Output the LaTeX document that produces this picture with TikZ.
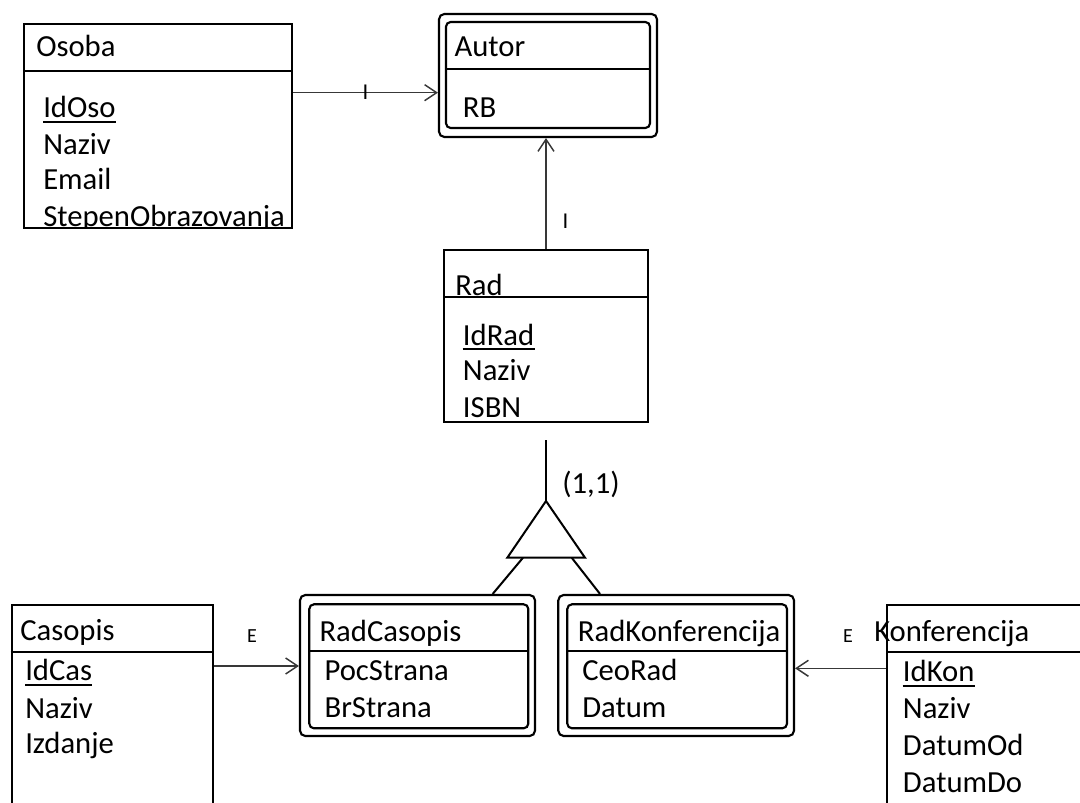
\documentclass[tikz,border=0pt]{standalone}
\usepackage{fontspec}
\setmainfont{Carlito}
\usetikzlibrary{arrows.meta,fit}
\begin{document}
\begin{tikzpicture}[x=0.75pt,y=-0.75pt,
  box/.style={draw, line width=1.6pt, inner sep=0pt},
  rbox/.style={box, rounded corners=4pt},
  hline/.style={line width=1.5pt},
  conn/.style={draw=black!78, line width=1.1pt},
  arr/.style={conn, -{Straight Barb[length=9pt,width=12pt,line width=1.1pt]}},
  txt/.style={anchor=base west, inner sep=0pt, font=\fontsize{23}{27}\selectfont},
  lblI/.style={inner sep=0pt, font=\fontsize{17}{20}\selectfont},
  lblE/.style={inner sep=0pt, font=\fontsize{15}{18}\selectfont},
  ul/.style={line width=1.3pt}]
\useasboundingbox (0,0) rectangle (1080,802);
\clip (0,0) rectangle (1080,802);

% ---------- Osoba ----------
\node[box, fit={(24,24)(291.7,227.7)}] (osoba) {};
\draw[hline] (osoba.west |- 0,70.7) -- (osoba.east |- 0,70.7);
\node[txt] (osobaT) at (36,56.7) {Osoba};
\node[txt] (osobaA1) at (43,118) {IdOso};
\draw[ul] ([yshift=-3pt]osobaA1.base west) -- ([yshift=-3pt]osobaA1.base east);
\node[txt] (osobaA2) at (43,155) {Naziv};
\node[txt] (osobaA3) at (43,190) {Email};
\begin{scope}
  \clip (osoba.north west) rectangle (osoba.south east);
  \node[txt] (osobaA4) at (43,227) {StepenObrazovanja};
\end{scope}

% ---------- Autor ----------
\node[rbox, fit={(439,14)(657,137)}] (autor) {};
\node[rbox, rounded corners=3.5pt, fit={(446,22)(650,128)}] (autorin) {};
\draw[hline] (autorin.west |- 0,69) -- (autorin.east |- 0,69);
\node[txt] (autorT) at (454.3,56.7) {Autor};
\node[txt] (autorA1) at (462.7,117.3) {RB};

% ---------- Rad ----------
\node[box, fit={(444.3,250)(647.7,421.7)}] (rad) {};
\draw[hline] (rad.west |- 0,296.7) -- (rad.east |- 0,296.7);
\node[txt] (radT) at (455,295) {Rad};
\node[txt] (radA1) at (462.7,345) {IdRad};
\draw[ul] ([yshift=-3pt]radA1.base west) -- ([yshift=-3pt]radA1.base east);
\node[txt] (radA2) at (462.7,380.7) {Naziv};
\node[txt] (radA3) at (462.7,417.3) {ISBN};

% ---------- Casopis ----------
\node[box, fit={(11.7,605)(213,860)}] (casopis) {};
\draw[hline] (casopis.west |- 0,651.7) -- (casopis.east |- 0,651.7);
\node[txt] (casT) at (20,640.7) {Casopis};
\node[txt] (casA1) at (25,680.7) {IdCas};
\draw[ul] ([yshift=-3pt]casA1.base west) -- ([yshift=-3pt]casA1.base east);
\node[txt] (casA2) at (25,718) {Naziv};
\node[txt] (casA3) at (25,753) {Izdanje};

% ---------- RadCasopis ----------
\node[rbox, fit={(300,595)(535,736)}] (radcas) {};
\node[rbox, rounded corners=3.5pt, fit={(309.3,604.3)(528.3,728.3)}] (radcasin) {};
\draw[hline] (radcasin.west |- 0,650.7) -- (radcasin.east |- 0,650.7);
\node[txt] (rcT) at (319.3,641) {RadCasopis};
\node[txt] (rcA1) at (324.3,680) {PocStrana};
\node[txt] (rcA2) at (324.3,717.7) {BrStrana};

% ---------- RadKonferencija ----------
\node[rbox, fit={(558.3,595)(794,736)}] (radkon) {};
\node[rbox, rounded corners=3.5pt, fit={(567.3,604.3)(787,728.3)}] (radkonin) {};
\draw[hline] (radkonin.west |- 0,650.7) -- (radkonin.east |- 0,650.7);
\node[txt] (rkT) at (577.7,641) {RadKonferencija};
\node[txt] (rkA1) at (582,680) {CeoRad};
\node[txt] (rkA2) at (582,717.7) {Datum};

% ---------- Konferencija ----------
\node[box, fit={(887.3,605)(1120,860)}] (konf) {};
\draw[hline] (konf.west |- 0,651.7) -- (konf.east |- 0,651.7);
\node[txt] (konT) at (874,641.7) {Konferencija};
\node[txt] (konA1) at (902.7,681.7) {IdKon};
\draw[ul] ([yshift=-3pt]konA1.base west) -- ([yshift=-3pt]konA1.base east);
\node[txt] (konA2) at (902.7,718.3) {Naziv};
\node[txt] (konA3) at (902.7,755) {DatumOd};
\node[txt] (konA4) at (902.7,792.7) {DatumDo};

% ---------- specialization triangle ----------
\coordinate (isatop) at (546,440);
\coordinate (apex) at (546,501);
\coordinate (bl) at (507.3,557.7);
\coordinate (br) at (585,557.7);
\coordinate (tl) at (523,557.7);
\coordinate (tr) at (571.7,557.7);
\draw[hline, line join=miter] (apex) -- (bl) -- (br) -- cycle;
\draw[hline] (isatop) -- (apex);
\node[txt] (card) at (562,493.3) {(1,1)};
\draw[hline] (tl) -- (radcas.north -| 492.7,0);
\draw[hline] (tr) -- (radkon.north -| 600,0);

% ---------- connectors ----------
\draw[arr] (osoba.east |- 0,92.7) -- node[lblI] (l1) {I} (autor.west |- 0,92.7);
\draw[arr] (rad.north) -- node[lblI, pos=0.25, anchor=center, xshift=14.6pt] (l2) {I} (rad.north |- autor.south);
\draw[arr] (casopis.east |- 0,666) -- (radcas.west |- 0,666);
\node[lblE] (l3) at (252,636.3) {E};
\draw[arr] (konf.west |- 0,668.3) -- (radkon.east |- 0,668.3);
\node[lblE] (l4) at (848,636.3) {E};
\end{tikzpicture}
\end{document}
